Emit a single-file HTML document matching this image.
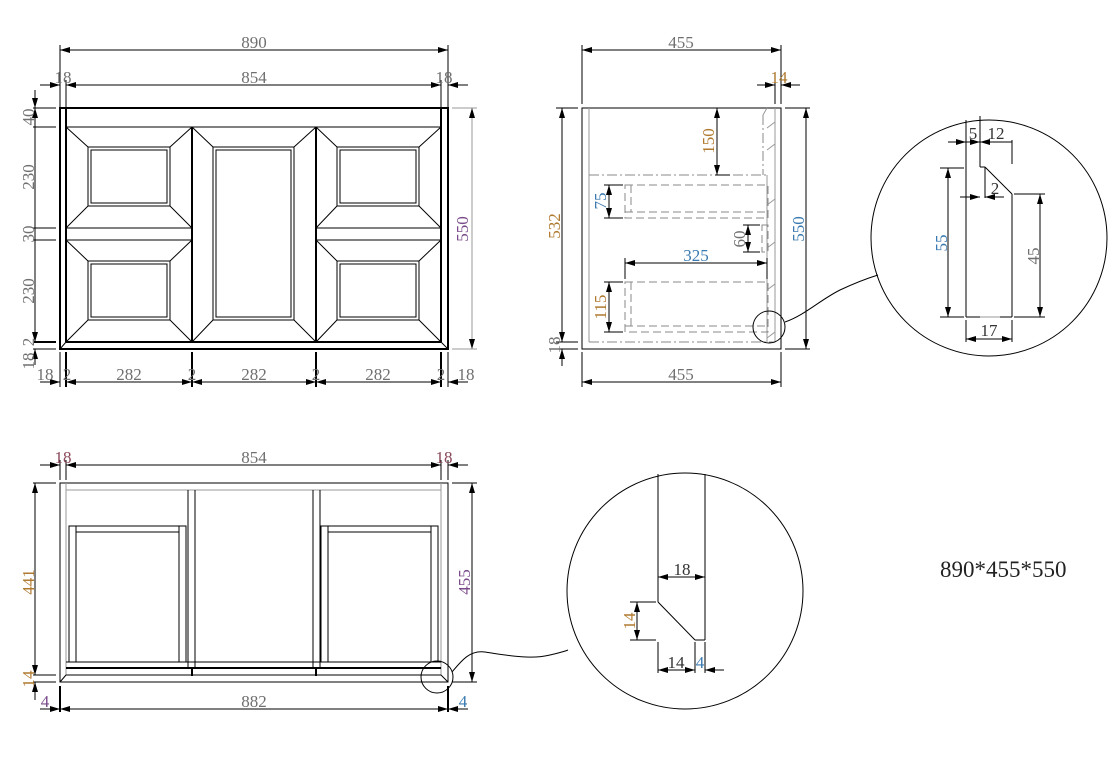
<!DOCTYPE html>
<html><head><meta charset="utf-8"><style>
html,body{margin:0;padding:0;background:#fff;}
svg{display:block;}
text{font-family:"Liberation Serif",serif;font-size:17px;fill:#707070;}
.d{stroke:#000;stroke-width:1;fill:none;}
.g{stroke:#999;stroke-width:1;fill:none;}
.k{stroke:#000;stroke-width:2;fill:none;}
.dd{stroke:#888;stroke-width:1;fill:none;stroke-dasharray:8,4;}
.dc{stroke:#888;stroke-width:1;fill:none;stroke-dasharray:10,3,2,3;}
</style></head><body>
<svg width="1117" height="763" viewBox="0 0 1117 763" xmlns="http://www.w3.org/2000/svg">
<defs>
<marker id="a" viewBox="0 0 10 6" refX="10" refY="3" markerWidth="10" markerHeight="6" orient="auto-start-reverse" markerUnits="userSpaceOnUse"><path d="M0,0L10,3L0,6z" fill="#000"/></marker>
</defs>

<!-- ===== FRONT VIEW ===== -->
<rect x="60" y="108" width="388" height="241" class="k"/>
<line x1="66" y1="108" x2="66" y2="342" class="k"/>
<line x1="441" y1="108" x2="441" y2="342" class="k"/>
<line x1="66" y1="342" x2="441" y2="342" class="k"/>
<line x1="66" y1="127" x2="441" y2="127" class="d"/>
<line x1="192" y1="127" x2="192" y2="342" class="k"/>
<line x1="316" y1="127" x2="316" y2="342" class="k"/>
<line x1="66" y1="228" x2="192" y2="228" class="d"/><line x1="66" y1="240" x2="192" y2="240" class="d"/>
<line x1="316" y1="228" x2="441" y2="228" class="d"/><line x1="316" y1="240" x2="441" y2="240" class="d"/>
<line x1="60" y1="349" x2="66" y2="342" class="d"/><line x1="448" y1="349" x2="441" y2="342" class="d"/>
<g class="d">
<rect x="88" y="147" width="82" height="59"/><rect x="91" y="150" width="76" height="53"/>
<line x1="66" y1="127" x2="88" y2="147"/><line x1="192" y1="127" x2="170" y2="147"/><line x1="66" y1="228" x2="88" y2="206"/><line x1="192" y1="228" x2="170" y2="206"/>
<rect x="88" y="261" width="82" height="59"/><rect x="91" y="264" width="76" height="53"/>
<line x1="66" y1="240" x2="88" y2="261"/><line x1="192" y1="240" x2="170" y2="261"/><line x1="66" y1="342" x2="88" y2="320"/><line x1="192" y1="342" x2="170" y2="320"/>
<rect x="213" y="147" width="81" height="173"/><rect x="216" y="150" width="75" height="167"/>
<line x1="192" y1="127" x2="213" y2="147"/><line x1="316" y1="127" x2="294" y2="147"/><line x1="192" y1="342" x2="213" y2="320"/><line x1="316" y1="342" x2="294" y2="320"/>
<rect x="337" y="147" width="82" height="59"/><rect x="340" y="150" width="76" height="53"/>
<line x1="316" y1="127" x2="337" y2="147"/><line x1="441" y1="127" x2="419" y2="147"/><line x1="316" y1="228" x2="337" y2="206"/><line x1="441" y1="228" x2="419" y2="206"/>
<rect x="337" y="261" width="82" height="59"/><rect x="340" y="264" width="76" height="53"/>
<line x1="316" y1="240" x2="337" y2="261"/><line x1="441" y1="240" x2="419" y2="261"/><line x1="316" y1="342" x2="337" y2="320"/><line x1="441" y1="342" x2="419" y2="320"/>
</g>
<g class="d">
<line x1="60" y1="45" x2="60" y2="108"/><line x1="448" y1="45" x2="448" y2="108"/>
<line x1="60" y1="50" x2="448" y2="50" marker-start="url(#a)" marker-end="url(#a)"/>
<line x1="66" y1="80" x2="66" y2="108"/><line x1="441" y1="80" x2="441" y2="108"/>
<line x1="66" y1="85" x2="441" y2="85" marker-start="url(#a)" marker-end="url(#a)"/>
<line x1="40" y1="85" x2="60" y2="85" marker-end="url(#a)"/><line x1="468" y1="85" x2="448" y2="85" marker-end="url(#a)"/>
<line x1="35" y1="90" x2="35" y2="108" marker-end="url(#a)"/>
<line x1="35" y1="108" x2="35" y2="342" marker-start="url(#a)" marker-end="url(#a)"/>
<line x1="35" y1="365" x2="35" y2="349" marker-end="url(#a)"/>
<line x1="33" y1="108" x2="56" y2="108"/><line x1="33" y1="127" x2="56" y2="127"/><line x1="33" y1="228" x2="56" y2="228"/><line x1="33" y1="240" x2="56" y2="240"/><line x1="33" y1="342" x2="56" y2="342" class="k"/><line x1="33" y1="349" x2="56" y2="349"/>
<line x1="60" y1="352" x2="60" y2="387"/><line x1="66" y1="352" x2="66" y2="387" class="k"/><line x1="192" y1="352" x2="192" y2="387" class="k"/><line x1="316" y1="352" x2="316" y2="387" class="k"/><line x1="441" y1="352" x2="441" y2="387" class="k"/><line x1="448" y1="352" x2="448" y2="387"/>
<line x1="40" y1="382" x2="60" y2="382" marker-end="url(#a)"/><line x1="66" y1="382" x2="192" y2="382" marker-start="url(#a)" marker-end="url(#a)"/><line x1="192" y1="382" x2="316" y2="382" marker-start="url(#a)" marker-end="url(#a)"/><line x1="316" y1="382" x2="441" y2="382" marker-start="url(#a)" marker-end="url(#a)"/><line x1="468" y1="382" x2="448" y2="382" marker-end="url(#a)"/>
</g>
<g class="g"><line x1="452" y1="108" x2="477" y2="108"/><line x1="452" y1="349" x2="477" y2="349"/><line x1="472" y1="108" x2="472" y2="349" marker-start="url(#a)" marker-end="url(#a)"/></g>
<text x="254" y="48" text-anchor="middle">890</text>
<text x="254" y="83" text-anchor="middle">854</text>
<text x="63" y="83" text-anchor="middle">18</text><text x="444" y="83" text-anchor="middle">18</text>
<text transform="translate(34,117) rotate(-90)" text-anchor="middle">40</text>
<text transform="translate(34,177) rotate(-90)" text-anchor="middle">230</text>
<text transform="translate(34,234) rotate(-90)" text-anchor="middle">30</text>
<text transform="translate(34,291) rotate(-90)" text-anchor="middle">230</text>
<text transform="translate(34,342) rotate(-90)" text-anchor="middle">2</text>
<text transform="translate(34,361) rotate(-90)" text-anchor="middle">18</text>
<text transform="translate(468,229) rotate(-90)" text-anchor="middle" style="fill:#7a4a8a">550</text>
<text x="45" y="380" text-anchor="middle">18</text><text x="67" y="380" text-anchor="middle">2</text><text x="129" y="380" text-anchor="middle">282</text><text x="192" y="380" text-anchor="middle">2</text><text x="254" y="380" text-anchor="middle">282</text><text x="316" y="380" text-anchor="middle">2</text><text x="378" y="380" text-anchor="middle">282</text><text x="441" y="380" text-anchor="middle">2</text><text x="466" y="380" text-anchor="middle">18</text>

<!-- ===== SIDE VIEW ===== -->
<rect x="582" y="108" width="199" height="241" class="d"/>
<line x1="589" y1="108" x2="589" y2="342" class="g"/>
<line x1="589" y1="342" x2="775" y2="342" class="dc"/>
<line x1="589" y1="175" x2="767" y2="175" class="dc"/>
<line x1="763" y1="115" x2="763" y2="175" class="dc"/>
<line x1="763" y1="115" x2="767" y2="108" class="g"/>
<line x1="767" y1="175" x2="767" y2="342" class="g"/>
<line x1="775" y1="108" x2="775" y2="342" class="g"/>
<g class="g"><line x1="767" y1="128" x2="775" y2="122"/><line x1="767" y1="150" x2="775" y2="144"/><line x1="767" y1="205" x2="775" y2="199"/><line x1="767" y1="248" x2="775" y2="242"/><line x1="767" y1="290" x2="775" y2="284"/><line x1="767" y1="338" x2="775" y2="332"/></g>
<g class="dd">
<rect x="625" y="185" width="143" height="33"/><line x1="625" y1="212" x2="768" y2="212"/><line x1="631" y1="185" x2="631" y2="212"/>
<rect x="625" y="282" width="143" height="50"/><line x1="625" y1="326" x2="768" y2="326"/><line x1="631" y1="282" x2="631" y2="326"/>
<rect x="762" y="225" width="6" height="27"/>
</g>
<circle cx="769" cy="327" r="16" class="d"/>
<path d="M785,322 C805,315 820,300 840,290 C855,283 865,279 878,275" class="d"/>
<g class="d">
<line x1="582" y1="45" x2="582" y2="104"/><line x1="781" y1="45" x2="781" y2="104"/>
<line x1="582" y1="50" x2="781" y2="50" marker-start="url(#a)" marker-end="url(#a)"/>
<line x1="775" y1="80" x2="775" y2="104"/>
<line x1="757" y1="85" x2="775" y2="85" marker-end="url(#a)"/><line x1="800" y1="85" x2="781" y2="85" marker-end="url(#a)"/>
<line x1="556" y1="108" x2="578" y2="108"/><line x1="556" y1="342" x2="578" y2="342"/><line x1="556" y1="349" x2="578" y2="349"/>
<line x1="562" y1="108" x2="562" y2="342" marker-start="url(#a)" marker-end="url(#a)"/>
<line x1="562" y1="366" x2="562" y2="349" marker-end="url(#a)"/>
<line x1="785" y1="108" x2="810" y2="108"/><line x1="785" y1="349" x2="810" y2="349"/>
<line x1="806" y1="108" x2="806" y2="349" marker-start="url(#a)" marker-end="url(#a)"/>
<line x1="582" y1="352" x2="582" y2="387"/><line x1="781" y1="352" x2="781" y2="387"/>
<line x1="582" y1="382" x2="781" y2="382" marker-start="url(#a)" marker-end="url(#a)"/>
<line x1="717" y1="108" x2="717" y2="175" marker-start="url(#a)" marker-end="url(#a)"/><line x1="715" y1="175" x2="730" y2="175"/>
<line x1="604" y1="185" x2="623" y2="185"/><line x1="604" y1="218" x2="623" y2="218"/>
<line x1="609" y1="185" x2="609" y2="218" marker-start="url(#a)" marker-end="url(#a)"/>
<line x1="743" y1="225" x2="760" y2="225"/><line x1="743" y1="252" x2="760" y2="252"/>
<line x1="748" y1="225" x2="748" y2="252" marker-start="url(#a)" marker-end="url(#a)"/>
<line x1="625" y1="258" x2="625" y2="279"/><line x1="767" y1="258" x2="767" y2="279"/>
<line x1="625" y1="263" x2="767" y2="263" marker-start="url(#a)" marker-end="url(#a)"/>
<line x1="604" y1="282" x2="623" y2="282"/><line x1="604" y1="332" x2="623" y2="332"/>
<line x1="609" y1="282" x2="609" y2="332" marker-start="url(#a)" marker-end="url(#a)"/>
</g>
<text x="681" y="48" text-anchor="middle">455</text>
<text x="681" y="380" text-anchor="middle">455</text>
<text x="779" y="83" text-anchor="middle" style="fill:#b07a30">14</text>
<text transform="translate(560,226) rotate(-90)" text-anchor="middle" style="fill:#b07a30">532</text>
<text transform="translate(560,345) rotate(-90)" text-anchor="middle">18</text>
<text transform="translate(804,229) rotate(-90)" text-anchor="middle" style="fill:#3a7ab0">550</text>
<text transform="translate(714,141) rotate(-90)" text-anchor="middle" style="fill:#b07a30">150</text>
<text transform="translate(606,201) rotate(-90)" text-anchor="middle" style="fill:#3a7ab0">75</text>
<text transform="translate(745,239) rotate(-90)" text-anchor="middle">60</text>
<text x="696" y="261" text-anchor="middle" style="fill:#3a7ab0">325</text>
<text transform="translate(606,307) rotate(-90)" text-anchor="middle" style="fill:#b07a30">115</text>

<!-- ===== DETAIL CIRCLE 1 ===== -->
<circle cx="989" cy="238" r="118" class="d"/>
<g class="d">
<line x1="966" y1="120" x2="966" y2="317"/>
<line x1="980" y1="116" x2="980" y2="167"/>
<line x1="980" y1="167" x2="985" y2="167"/>
<line x1="985" y1="167" x2="1012" y2="194"/>
<line x1="1012" y1="194" x2="1012" y2="317"/>
<line x1="985" y1="167" x2="985" y2="198"/>
<line x1="966" y1="317" x2="980" y2="317"/><line x1="1000" y1="317" x2="1012" y2="317"/>
<line x1="948" y1="142" x2="966" y2="142" marker-end="url(#a)"/><line x1="966" y1="142" x2="980" y2="142" marker-end="url(#a)"/><line x1="980" y1="142" x2="1012" y2="142" marker-start="url(#a)"/>
<line x1="1012" y1="140" x2="1012" y2="164"/>
<line x1="940" y1="168" x2="964" y2="168"/><line x1="940" y1="317" x2="964" y2="317"/>
<line x1="948" y1="168" x2="948" y2="317" marker-start="url(#a)" marker-end="url(#a)"/>
<line x1="1014" y1="194" x2="1045" y2="194"/><line x1="1014" y1="317" x2="1045" y2="317"/>
<line x1="1040" y1="194" x2="1040" y2="317" marker-start="url(#a)" marker-end="url(#a)"/>
<line x1="960" y1="197" x2="980" y2="197" marker-end="url(#a)"/><line x1="1004" y1="197" x2="985" y2="197" marker-end="url(#a)"/>
<line x1="966" y1="320" x2="966" y2="342"/><line x1="1012" y1="320" x2="1012" y2="342"/>
<line x1="966" y1="339" x2="1012" y2="339" marker-start="url(#a)" marker-end="url(#a)"/>
</g>
<line x1="980" y1="317" x2="1000" y2="317" class="g"/>
<text x="973" y="139" text-anchor="middle" style="fill:#333">5</text>
<text x="996" y="139" text-anchor="middle" style="fill:#333">12</text>
<text x="995" y="194" text-anchor="middle" style="fill:#333">2</text>
<text transform="translate(947,243) rotate(-90)" text-anchor="middle" style="fill:#3a7ab0">55</text>
<text transform="translate(1039,256) rotate(-90)" text-anchor="middle">45</text>
<text x="989" y="336" text-anchor="middle" style="fill:#333">17</text>

<!-- ===== BOTTOM VIEW ===== -->
<rect x="60" y="483" width="388" height="199" class="d"/>
<line x1="66" y1="483" x2="66" y2="675" class="g"/>
<line x1="441" y1="483" x2="441" y2="675" class="g"/>
<line x1="66" y1="490" x2="441" y2="490" class="g"/>
<g class="d">
<line x1="188" y1="490" x2="188" y2="668"/><line x1="195" y1="490" x2="195" y2="668"/>
<line x1="313" y1="490" x2="313" y2="668"/><line x1="320" y1="490" x2="320" y2="668"/>
<rect x="69" y="526" width="117" height="136"/><line x1="76" y1="526" x2="76" y2="662"/><line x1="179" y1="526" x2="179" y2="662"/><line x1="76" y1="532" x2="179" y2="532"/>
<rect x="321" y="526" width="117" height="136"/><line x1="328" y1="526" x2="328" y2="662"/><line x1="431" y1="526" x2="431" y2="662"/><line x1="328" y1="532" x2="431" y2="532"/>
<line x1="66" y1="662" x2="441" y2="662"/>
<line x1="66" y1="675" x2="441" y2="675"/>
<line x1="60" y1="682" x2="66" y2="675"/><line x1="448" y1="682" x2="441" y2="675"/>
</g>
<line x1="66" y1="668" x2="441" y2="668" class="k"/>
<line x1="192" y1="668" x2="192" y2="676" class="k"/><line x1="316" y1="668" x2="316" y2="676" class="k"/>
<circle cx="437" cy="677" r="16" class="d"/>
<path d="M452,672 C462,660 470,650 485,652 C505,655 530,660 550,655 C558,653 563,652 568,650" class="d"/>
<g class="d">
<line x1="60" y1="460" x2="60" y2="480"/><line x1="66" y1="460" x2="66" y2="480"/><line x1="441" y1="460" x2="441" y2="480"/><line x1="448" y1="460" x2="448" y2="480"/>
<line x1="66" y1="465" x2="441" y2="465" marker-start="url(#a)" marker-end="url(#a)"/>
<line x1="40" y1="465" x2="60" y2="465" marker-end="url(#a)"/><line x1="468" y1="465" x2="448" y2="465" marker-end="url(#a)"/>
<line x1="33" y1="483" x2="56" y2="483"/><line x1="33" y1="675" x2="56" y2="675"/><line x1="33" y1="682" x2="56" y2="682"/>
<line x1="35" y1="483" x2="35" y2="675" marker-start="url(#a)" marker-end="url(#a)"/>
<line x1="35" y1="700" x2="35" y2="682" marker-end="url(#a)"/>
<line x1="452" y1="483" x2="477" y2="483"/><line x1="452" y1="682" x2="477" y2="682"/>
<line x1="472" y1="483" x2="472" y2="682" marker-start="url(#a)" marker-end="url(#a)"/>
<line x1="60" y1="686" x2="60" y2="712" class="k"/><line x1="448" y1="686" x2="448" y2="712" class="k"/>
<line x1="60" y1="709" x2="448" y2="709" marker-start="url(#a)" marker-end="url(#a)"/>
<line x1="40" y1="709" x2="60" y2="709" marker-end="url(#a)"/><line x1="468" y1="709" x2="448" y2="709" marker-end="url(#a)"/>
</g>
<text x="254" y="463" text-anchor="middle">854</text>
<text x="63" y="463" text-anchor="middle" style="fill:#8a4a5a">18</text><text x="444" y="463" text-anchor="middle" style="fill:#8a4a5a">18</text>
<text transform="translate(34,582) rotate(-90)" text-anchor="middle" style="fill:#b07a30">441</text>
<text transform="translate(34,679) rotate(-90)" text-anchor="middle" style="fill:#b07a30">14</text>
<text transform="translate(470,582) rotate(-90)" text-anchor="middle" style="fill:#7a4a8a">455</text>
<text x="254" y="707" text-anchor="middle">882</text>
<text x="45" y="707" text-anchor="middle" style="fill:#7a4a8a">4</text>
<text x="463" y="707" text-anchor="middle" style="fill:#3a7ab0">4</text>

<!-- ===== DETAIL CIRCLE 2 ===== -->
<circle cx="685" cy="591" r="118" class="d"/>
<g class="d">
<line x1="658" y1="474" x2="658" y2="602"/>
<line x1="705" y1="474" x2="705" y2="640"/>
<line x1="658" y1="602" x2="695" y2="640"/>
<line x1="695" y1="640" x2="705" y2="640"/>
<line x1="658" y1="577" x2="705" y2="577" marker-start="url(#a)" marker-end="url(#a)"/>
<line x1="630" y1="602" x2="656" y2="602"/><line x1="630" y1="640" x2="656" y2="640"/>
<line x1="637" y1="602" x2="637" y2="640" marker-start="url(#a)" marker-end="url(#a)"/>
<line x1="658" y1="642" x2="658" y2="673"/><line x1="695" y1="642" x2="695" y2="673"/><line x1="705" y1="642" x2="705" y2="673"/>
<line x1="658" y1="670" x2="695" y2="670" marker-start="url(#a)" marker-end="url(#a)"/>
<line x1="724" y1="670" x2="705" y2="670" marker-end="url(#a)"/>
</g>
<text x="682" y="575" text-anchor="middle" style="fill:#333">18</text>
<text transform="translate(635,621) rotate(-90)" text-anchor="middle" style="fill:#b07a30">14</text>
<text x="676" y="668" text-anchor="middle" style="fill:#333">14</text>
<text x="700" y="668" text-anchor="middle" style="fill:#3a7ab0">4</text>

<text x="940" y="577" style="font-size:23px;fill:#222">890*455*550</text>
</svg>
</body></html>
